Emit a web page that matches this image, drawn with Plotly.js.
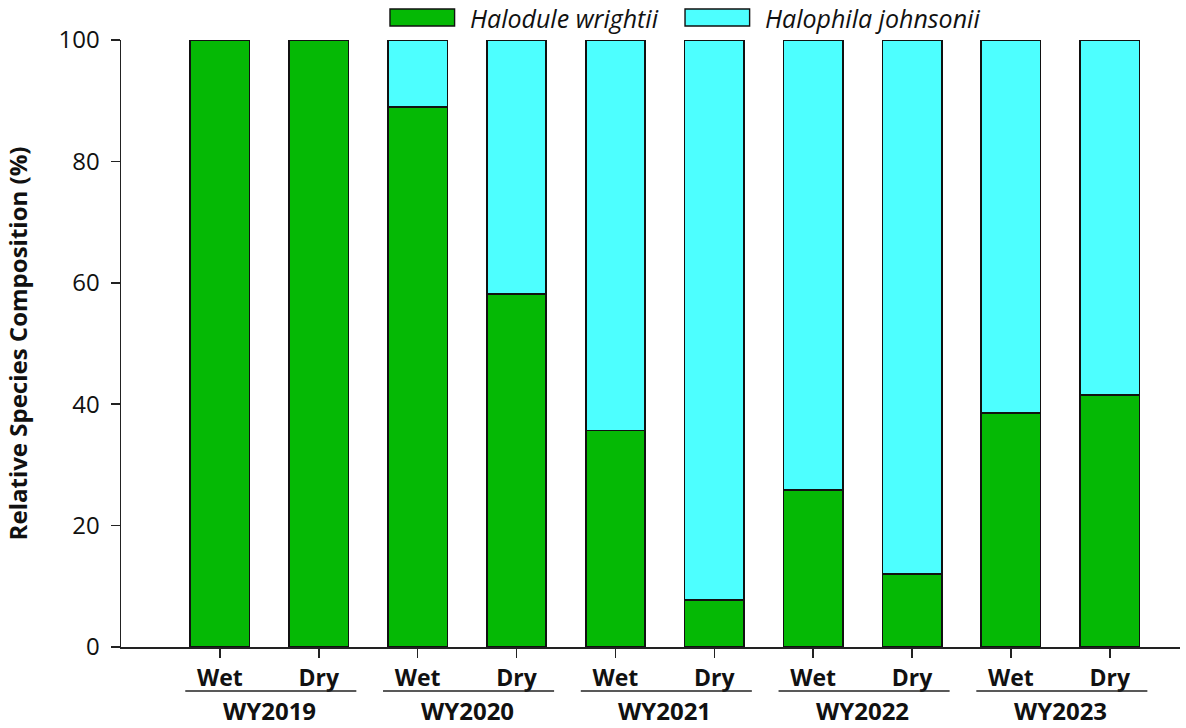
<!DOCTYPE html>
<html>
<head>
<meta charset="utf-8">
<script src="https://cdn.plot.ly/plotly-3.0.1.min.js"></script>
<style>html,body{margin:0;padding:0;background:#fff;}#chart{width:1186px;height:728px;}</style>
</head>
<body>
<div id="chart"></div>
<script>
const years = ["WY2019", "WY2020", "WY2021", "WY2022", "WY2023"];
const seasons = ["Wet", "Dry"];
const seriesNames = ["Halodule wrightii", "Halophila johnsonii"];
const halodule = [100, 100, 89.0, 58.2, 35.7, 7.7, 25.9, 12.0, 38.6, 41.5];
const halophila = [0, 0, 11.0, 41.8, 64.3, 92.3, 74.1, 88.0, 61.4, 58.5];
const yTicks = [0, 20, 40, 60, 80, 100];

const colors = ["#05B905", "#4DFFFF"];
const FONT = "Open Sans, Noto Sans, sans-serif";

const xs = [], tickText = [];
years.forEach((y, g) => seasons.forEach((s, k) => { xs.push(g * 2 + k); tickText.push(s); }));

const traces = [halodule, halophila].map((vals, i) => ({
  type: "bar", x: xs, y: vals, name: seriesNames[i],
  marker: {color: colors[i], line: {color: "#111", width: 1.6}},
  width: 0.6, showlegend: false, hoverinfo: "y+name"
}));

const shapes = [], annotations = [];
years.forEach((y, g) => {
  shapes.push({type: "line", xref: "x", yref: "paper", x0: g * 2 + 0.5 - 0.85, x1: g * 2 + 0.5 + 0.88,
    y0: -0.0725, y1: -0.0725, line: {color: "#222", width: 1.5}});
  annotations.push({xref: "x", yref: "paper", x: g * 2 + 0.5, y: -0.104, text: "<b>" + y + "</b>",
    showarrow: false, yanchor: "middle", font: {family: FONT, size: 24, color: "#111"}});
});
// custom legend
const legX = [0.2540, 0.5326];
seriesNames.forEach((n, i) => {
  shapes.push({type: "rect", xref: "paper", yref: "paper", x0: legX[i], x1: legX[i] + 0.061,
    y0: 1.0231, y1: 1.0511, fillcolor: colors[i], line: {color: "#111", width: 1.4}});
  annotations.push({xref: "paper", yref: "paper", x: legX[i] + 0.074, y: 1.037, xanchor: "left",
    yanchor: "middle", text: "<i>" + n + "</i>", showarrow: false,
    font: {family: FONT, size: 25, color: "#111"}});
});

const layout = {
  width: 1186, height: 728,
  margin: {l: 121, r: 6, t: 40, b: 81},
  paper_bgcolor: "#fff", plot_bgcolor: "#fff",
  barmode: "stack", showlegend: false,
  font: {family: FONT, color: "#111"},
  xaxis: {range: [-1, 9.71], tickvals: xs, ticktext: tickText, ticks: "outside", ticklen: 9,
    tickwidth: 1.5, tickcolor: "#222", showline: true, linecolor: "#222", linewidth: 1.5,
    showgrid: false, zeroline: false, tickfont: {family: FONT, size: 23, color: "#111", weight: "bold"},
    ticklabelstandoff: 1},
  yaxis: {range: [0, 100], tickvals: yTicks, ticks: "outside", ticklen: 9, tickwidth: 1.5,
    tickcolor: "#222", showline: true, linecolor: "#222", linewidth: 1.5, showgrid: false,
    zeroline: false, tickfont: {family: FONT, size: 24, color: "#111"}, ticklabelstandoff: 6,
    title: {text: "<b>Relative Species Composition (%)</b>", font: {family: FONT, size: 24, color: "#111"}, standoff: 24}},
  shapes: shapes, annotations: annotations
};

Plotly.newPlot("chart", traces, layout, {displayModeBar: false, staticPlot: true});
</script>
</body>
</html>
